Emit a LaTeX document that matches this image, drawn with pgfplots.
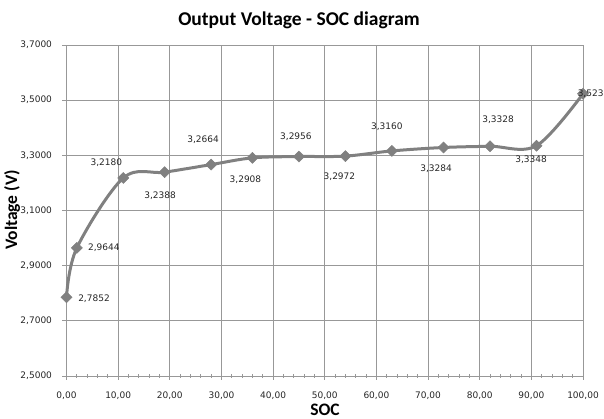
\documentclass[border=0pt]{standalone}
\usepackage{pgfplots}
\pgfplotsset{compat=1.18}
\usepackage{pgfplotstable}
\usepackage{fontspec}
\setmainfont{DejaVu Sans}
\newfontfamily\carlito{Carlito}
\definecolor{gridc}{HTML}{989898}
\definecolor{serc}{HTML}{808080}
\pgfplotstableread{
x y lab ndx ndy
0 2.7852 2,7852 27.5 -1
2 2.9644 2,9644 27 0
11 3.2180 3,2180 -17 15
19 3.2388 3,2388 -4.5 -23
28 3.2664 3,2664 -8 24.5
36 3.2908 3,2908 -7 -22
45 3.2956 3,2956 -3 19.5
54 3.2972 3,2972 -6 -21
63 3.3160 3,3160 -5 24
73 3.3284 3,3284 -7.5 -21.5
82 3.3328 3,3328 8 27
91 3.3348 3,3348 -5.5 -13.5
100 3.5232 3,5232 10.5 0
}\datatab
\begin{document}
\begin{tikzpicture}
\begin{axis}[
  name=ax, at={(0,0)}, anchor=south west,
  scale only axis, width=516.5pt, height=331pt,
  xmin=0, xmax=100, ymin=2.5, ymax=3.7,
  xtick={0,10,20,30,40,50,60,70,80,90,100},
  ytick={2.5,2.7,2.9,3.1,3.3,3.5,3.7},
  minor x tick num=4,
  grid=major,
  major grid style={gridc, line width=0.8pt},
  axis line style={gridc, line width=0.8pt},
  tick style={gridc, line width=0.8pt},
  tick align=center, major tick length=8pt, minor tick length=4pt,
  xtick pos=bottom, ytick pos=left,
  clip=false,
  /pgf/number format/assume math mode=true,
  xticklabel style={/pgf/number format/.cd, fixed, fixed zerofill, precision=2, use comma, /tikz/.cd, anchor=center, yshift=-16pt, font=\fontsize{9}{10}\selectfont, text=black!85},
  yticklabel style={/pgf/number format/.cd, fixed, fixed zerofill, precision=4, use comma, /tikz/.cd, anchor=east, xshift=-7pt, font=\fontsize{9}{10}\selectfont, text=black!85},
]
\addplot[serc, line width=3pt, smooth, tension=0.55,
  mark=diamond*, mark size=5.5pt, mark options={serc, solid, line width=0.5pt, xscale=1.35},
  point meta=explicit symbolic,
  visualization depends on={\thisrow{ndx}\as\ndx},
  visualization depends on={\thisrow{ndy}\as\ndy},
  nodes near coords,
  nodes near coords style={anchor=center, xshift=\ndx pt, yshift=\ndy pt, font=\fontsize{9}{10}\selectfont, text=black!85}
] table[x=x, y=y, meta=lab]{\datatab};
\end{axis}
\node[font=\carlito\bfseries\fontsize{19.5}{22}\selectfont, text=black] at ([shift={(232.5pt,356pt)}]ax.south west) {Output Voltage - SOC diagram};
\node[rotate=90, font=\carlito\bfseries\fontsize{17.5}{20}\selectfont, text=black] at ([shift={(-54.5pt,166pt)}]ax.south west) {Voltage (V)};
\node[font=\carlito\bfseries\fontsize{17.5}{20}\selectfont, text=black] at ([shift={(258.5pt,-34pt)}]ax.south west) {SOC};
\pgfresetboundingbox
\path ([shift={(-66.5pt,-43pt)}]ax.south west) rectangle ([shift={(21pt,45pt)}]ax.north east);
\end{tikzpicture}
\end{document}
